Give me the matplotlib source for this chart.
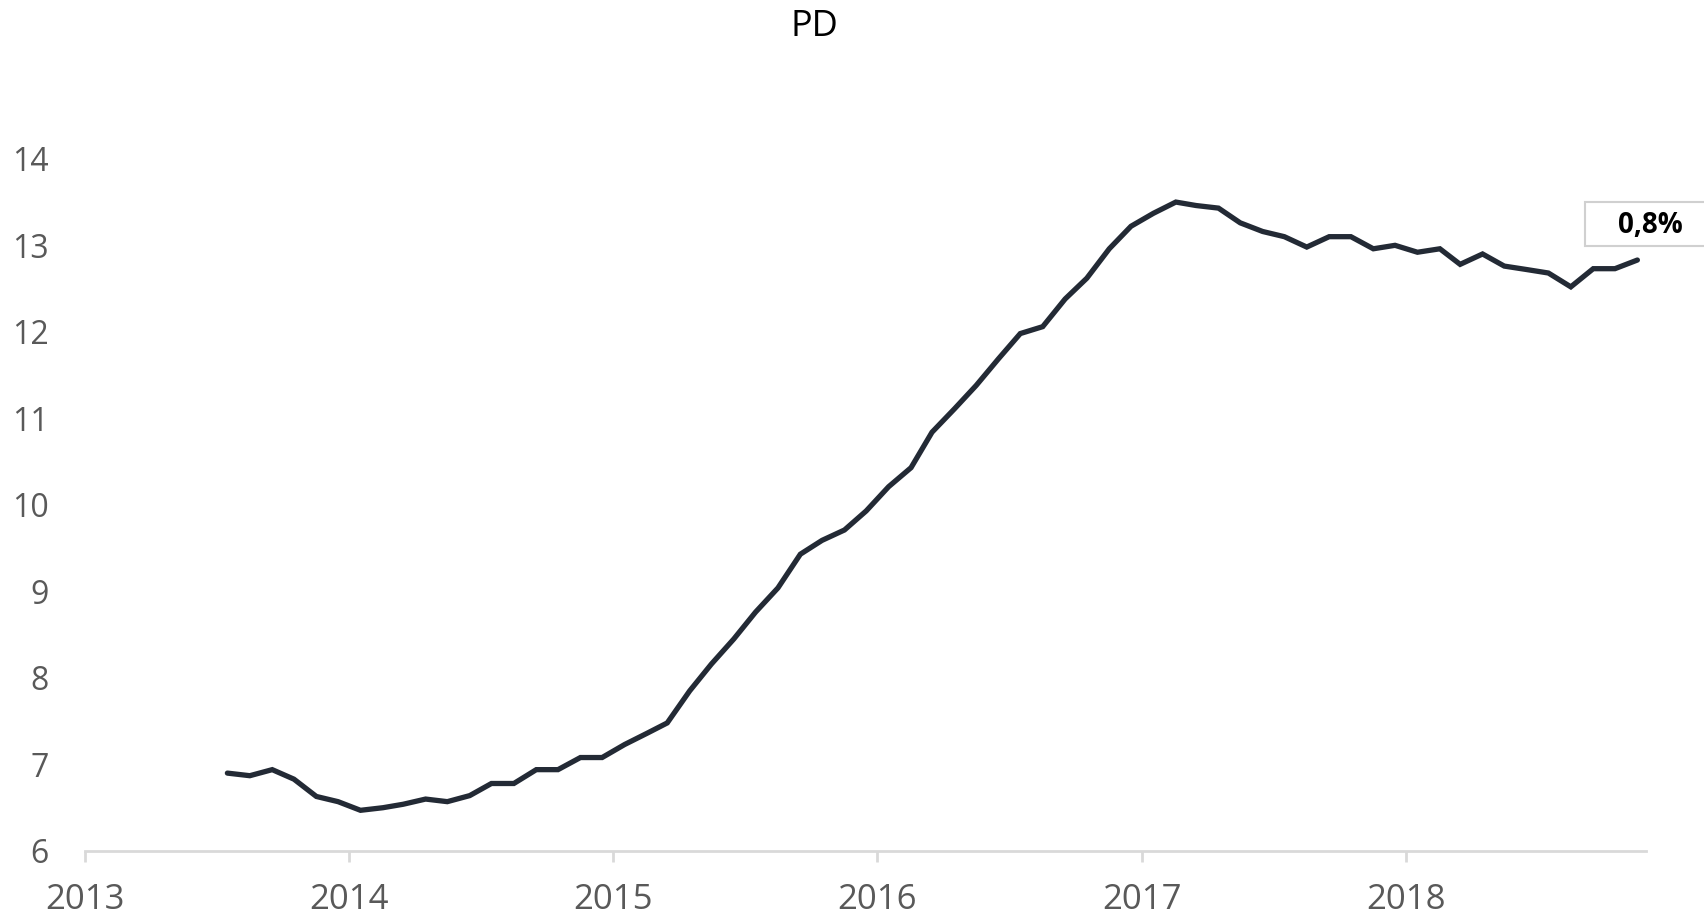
import matplotlib
matplotlib.use("Agg")
import matplotlib.pyplot as plt
import matplotlib.dates as mdates
import matplotlib.patches as patches
import pandas as pd

# monthly series, Jul 2013 - Nov 2018
months = pd.period_range("2013-07", "2018-11", freq="M")
pd_values = [
    6.90, 6.87, 6.94, 6.83, 6.63, 6.57,                         # 2013 H2
    6.47, 6.50, 6.54, 6.60, 6.57, 6.64, 6.78, 6.78, 6.94, 6.94, 7.08, 7.08,   # 2014
    7.23, 7.36, 7.48, 7.85, 8.16, 8.45, 8.76, 9.04, 9.43, 9.59, 9.71, 9.93,   # 2015
    10.21, 10.43, 10.84, 11.11, 11.38, 11.69, 11.98, 12.06, 12.38, 12.62, 12.96, 13.22,  # 2016
    13.37, 13.50, 13.46, 13.43, 13.26, 13.16, 13.10, 12.98, 13.10, 13.10, 12.96, 13.00,  # 2017
    12.92, 12.96, 12.78, 12.90, 12.76, 12.72, 12.68, 12.52, 12.73, 12.73, 12.83,         # 2018
]
years = [2013, 2014, 2015, 2016, 2017, 2018]
y_ticks = [6, 7, 8, 9, 10, 11, 12, 13, 14]
title = "PD"
last_label = "0,8%"

plt.rcParams['font.family'] = ['Open Sans', 'DejaVu Sans']

fig = plt.figure(figsize=(17.04, 9.17), dpi=100)
ax = fig.add_axes([0.0498, 0.072, 0.9162, 0.802])

# mid-month positions
dates = months.to_timestamp() + pd.Timedelta(days=16)
ax.plot(dates, pd_values, color='#232a35', lw=3.8, solid_capstyle='round', solid_joinstyle='miter')

ax.set_xlim(pd.Timestamp("2013-01-01"), pd.Timestamp("2018-11-29"))
ax.set_ylim(6, 14.5)
ax.set_yticks(y_ticks)
ax.set_xticks([pd.Timestamp(f"{y}-01-01") for y in years])
ax.xaxis.set_major_formatter(mdates.DateFormatter("%Y"))

for s in ['top', 'right', 'left']:
    ax.spines[s].set_visible(False)
ax.spines['bottom'].set_color('#d9d9d9')
ax.spines['bottom'].set_linewidth(2)

ax.tick_params(axis='y', length=0, pad=26, labelsize=23, labelcolor='#595959')
ax.tick_params(axis='x', length=8, width=2, color='#d9d9d9', pad=15,
               labelsize=25, labelcolor='#595959')

fig.text(0.478, 1 - 27 / 917, title, ha='center', va='center', fontsize=26, color='black')

# value box at the right edge
box = patches.Rectangle((1585 / 1704, 1 - 246 / 917), 0.1, 44 / 917,
                        transform=fig.transFigure, facecolor='white',
                        edgecolor='#d0d0d0', lw=1.5, clip_on=False)
fig.patches.append(box)
fig.text(1650 / 1704, 1 - 226 / 917, last_label, ha='center', va='center',
         fontsize=20, fontweight='bold', color='black')

fig.savefig("out.png", dpi=100)
